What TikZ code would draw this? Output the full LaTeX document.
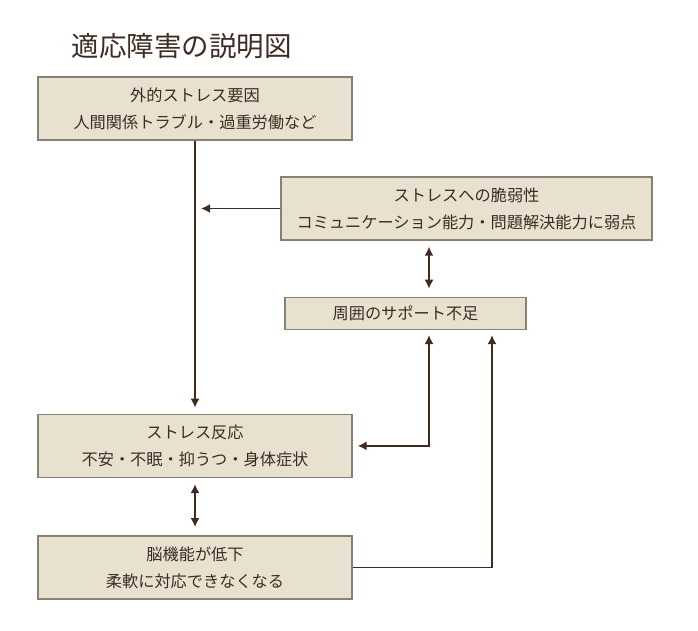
\documentclass[tikz,border=0pt]{standalone}
\usepackage{fontspec}
\newfontfamily\jpfont{Noto Sans CJK JP}
\usetikzlibrary{positioning,arrows.meta}

\definecolor{boxfill}{RGB}{232,225,207}
\definecolor{boxline}{RGB}{135,128,115}
\definecolor{ink}{RGB}{62,44,34}

\begin{document}
\begin{tikzpicture}[x=1pt,y=-1pt,
						box/.style={rectangle,draw=boxline,fill=boxfill,line width=1.4pt,text=ink,align=center,font=\jpfont\fontsize{16.2}{27}\selectfont,inner sep=0pt,minimum height=63pt},
						arr/.style={draw=ink,line width=1.6pt,-{Latex[length=9pt,width=9pt]}},
						darr/.style={draw=ink,line width=1.6pt,{Latex[length=9pt,width=9pt]}-{Latex[length=9pt,width=9pt]}}]
		\useasboundingbox (0,0) rectangle (698,631);
		\node[text=ink,font=\jpfont\fontsize{27.5}{30}\selectfont,anchor=west]	(title)	at (68,46)	{適応障害の説明図};

		\node[box,minimum width=314pt]										(cause)	at (195,108.5)	{外的ストレス要因\\人間関係トラブル・過重労働など};
		\node[box,minimum width=314pt,node distance=273pt,below=of cause]		(react)	{ストレス反応\\不安・不眠・抑うつ・身体症状};
		\node[box,minimum width=314pt,node distance=57pt,below=of react]		(brain)	{脳機能が低下\\柔軟に対応できなくなる};
		\node[box,minimum width=371pt]										(weak)	at (466.5,208.5)	{ストレスへの脆弱性\\コミュニケーション能力・問題解決能力に弱点};
		\node[box,minimum width=241pt,minimum height=32pt,node distance=56pt,below=of weak,xshift=-61pt]	(support)	{周囲のサポート不足};

		\coordinate (join) at (cause.south |- weak.west);

		\draw[arr,shorten >=6pt] (cause) -- (react);
		\draw[arr,shorten >=6pt] (weak.west) -- (join);
		\draw[darr,shorten <=6pt,shorten >=8pt] ([xshift=-37.5pt]weak.south) -- ([xshift=23.5pt]support.north);
		\draw[darr,shorten <=5pt,shorten >=5pt] ([xshift=23.5pt]support.south) |- (react.east);
		\draw[arr,shorten >=5pt] (brain.east) -| ([xshift=86.5pt]support.south);
		\draw[darr,shorten <=6pt,shorten >=8pt] (react) -- (brain);
	\end{tikzpicture}
\end{document}
